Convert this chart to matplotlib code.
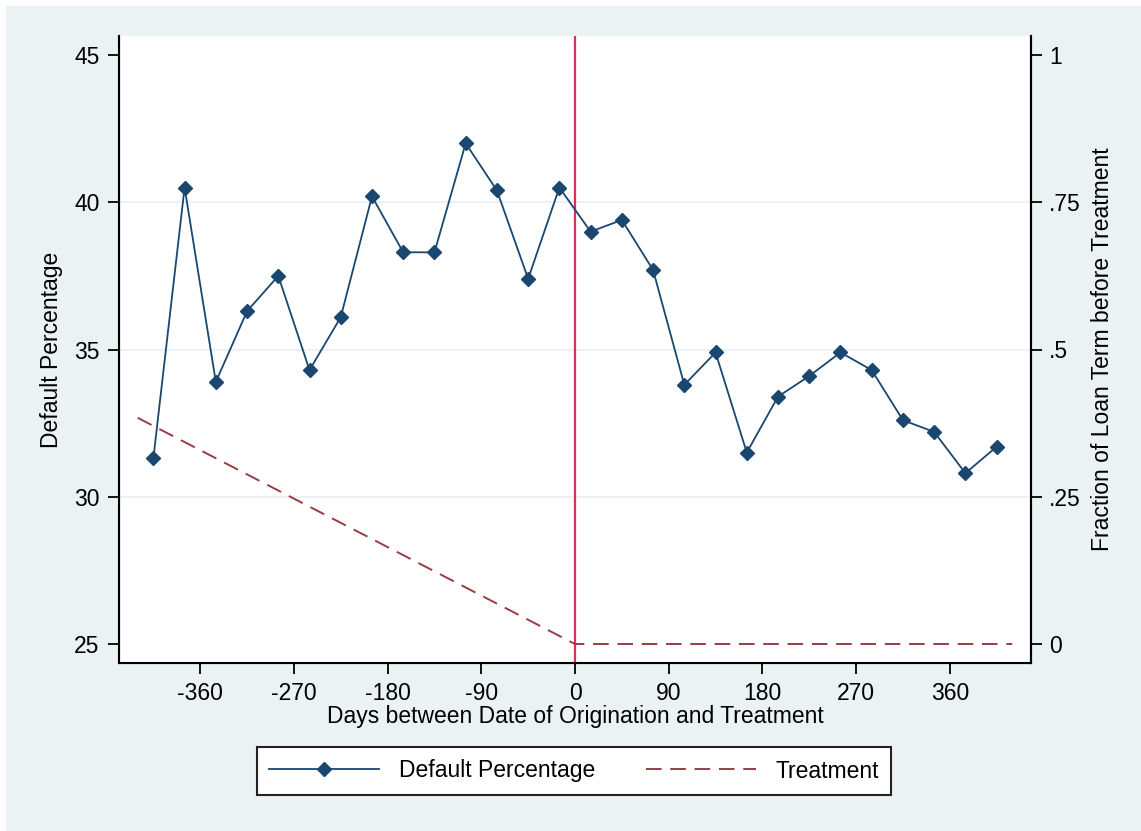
import numpy as np
import matplotlib
matplotlib.use("Agg")
import matplotlib.pyplot as plt
from matplotlib.lines import Line2D
from matplotlib.patches import Rectangle

plt.rcParams['font.family'] = ['Liberation Sans', 'DejaVu Sans']
plt.rcParams['axes.unicode_minus'] = False

# days relative to treatment (30-day bins) and default rate in each bin
days = [-405, -375, -345, -315, -285, -255, -225, -195, -165, -135, -105, -75, -45, -15,
        15, 45, 75, 105, 135, 165, 195, 225, 255, 285, 315, 345, 375, 405]
default_pct = [31.3, 40.5, 33.9, 36.3, 37.5, 34.3, 36.1, 40.2, 38.3, 38.3, 42.0, 40.4, 37.4, 40.5,
               39.0, 39.4, 37.7, 33.8, 34.9, 31.5, 33.4, 34.1, 34.9, 34.3, 32.6, 32.2, 30.8, 31.7]

# share of a 3-year loan term left before treatment
treat_days = [-420, 0, 420]
treat_frac = [0.384, 0.0, 0.0]

x_ticks = [-360, -270, -180, -90, 0, 90, 180, 270, 360]
y_ticks = [25, 30, 35, 40, 45]
y2_ticks = [0, 0.25, 0.5, 0.75, 1]
y2_labels = ['0', '.25', '.5', '.75', '1']

navy = '#1a476f'
maroon = '#9a3b44'
bg = '#eaf2f3'
FS = 16.5

fig = plt.figure(figsize=(11.41, 8.31), dpi=100, facecolor='white')
fig.patches.append(Rectangle((6 / 1141, 0), 1, 1 - 6 / 831, transform=fig.transFigure,
                             facecolor=bg, edgecolor='none', zorder=-10))

ax = fig.add_axes([119 / 1141, 1 - 663 / 831, (1031 - 119) / 1141, (663 - 36) / 831])
ax.set_facecolor('white')
ax.set_xlim(-438, 438)
ax.set_ylim(24.355, 45.645)

for g in y_ticks[1:-1]:
    ax.axhline(g, color=bg, lw=1.5, zorder=0)
ax.axvline(0, color='#d8315b', lw=1.6, zorder=1)

ax.plot(days, default_pct, color=navy, lw=1.3, marker='D', markersize=7.5,
        markerfacecolor=navy, markeredgecolor=navy, zorder=3)

ax.set_xticks(x_ticks)
ax.set_yticks(y_ticks)
ax.tick_params(axis='both', labelsize=FS, length=8, width=1.3, direction='out', color='black')
ax.tick_params(axis='y', pad=6)
ax.tick_params(axis='x', pad=6)
ax.set_xlabel('Days between Date of Origination and Treatment', fontsize=FS, labelpad=0)
ax.set_ylabel('Default Percentage', fontsize=FS, labelpad=8)
ax.spines['top'].set_visible(False)
for s in ['left', 'bottom', 'right']:
    ax.spines[s].set_linewidth(1.5)

ax2 = ax.twinx()
ax2.set_ylim((24.355 - 25) / 20, (45.645 - 25) / 20)
ax2.plot(treat_days, treat_frac, color=maroon, lw=1.4, linestyle=(0, (8, 4.5)), zorder=2)
ax2.set_yticks(y2_ticks)
ax2.set_yticklabels(y2_labels)
ax2.tick_params(axis='y', labelsize=FS, length=8, width=1.3, pad=5)
ax2.set_ylabel('Fraction of Loan Term before Treatment', fontsize=FS, labelpad=7)
ax2.spines['top'].set_visible(False)
ax2.spines['right'].set_linewidth(1.5)

handles = [
    Line2D([], [], color=navy, lw=1.3, marker='D', markersize=7.5),
    Line2D([], [], color=maroon, lw=1.4, linestyle=(0, (8, 4.5))),
]
leg = fig.legend(handles, ['Default Percentage', 'Treatment'], loc='center',
                 bbox_to_anchor=(574 / 1141, 1 - 771 / 831), ncol=2, fontsize=FS,
                 frameon=True, fancybox=False, edgecolor='#222222', framealpha=1,
                 handlelength=4.8, handletextpad=0.85, columnspacing=2.2,
                 borderpad=0.55, markerfirst=True)
leg.get_frame().set_linewidth(1.5)

fig.savefig('out.png', dpi=100, facecolor=fig.get_facecolor())
